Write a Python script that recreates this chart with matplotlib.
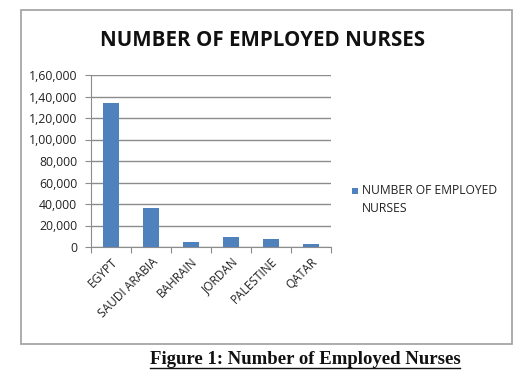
import matplotlib
matplotlib.use('Agg')
import matplotlib.pyplot as plt
from matplotlib.patches import Rectangle
from matplotlib.ticker import FuncFormatter, FixedLocator
import numpy as np

countries = ['EGYPT', 'SAUDI ARABIA', 'BAHRAIN', 'JORDAN', 'PALESTINE', 'QATAR']
nurses = [134000, 36000, 5000, 9000, 7000, 3000]
series_name = 'NUMBER OF EMPLOYED NURSES'
y_ticks = [0, 20000, 40000, 60000, 80000, 100000, 120000, 140000, 160000]


def indian_fmt(v, pos=None):
    # lakh style grouping: 1,60,000
    v = int(round(v))
    s = str(v)
    if len(s) <= 3:
        return s
    last3 = s[-3:]
    rest = s[:-3]
    parts = []
    while len(rest) > 2:
        parts.insert(0, rest[-2:])
        rest = rest[:-2]
    if rest:
        parts.insert(0, rest)
    return ','.join(parts) + ',' + last3


W, H = 529, 385
fig = plt.figure(figsize=(W / 100, H / 100), dpi=100)
fig.patch.set_facecolor('white')

# chart frame
fig.patches.append(Rectangle((20.7 / W, 1 - 344.3 / H), (512 - 20.7) / W, (344.3 - 9.7) / H,
                             transform=fig.transFigure, fill=False, edgecolor='#a6a6a6', lw=1.3))

ax = fig.add_axes([91 / W, 1 - 247 / H, (331 - 91) / W, (247 - 75) / H])
x = np.arange(len(countries))
ax.bar(x, nurses, width=0.4, color='#4f81bd', zorder=3, label=series_name)
ax.set_xlim(-0.5, len(countries) - 0.5)
ax.set_ylim(0, 160000)
ax.set_yticks(y_ticks)
ax.yaxis.set_major_formatter(FuncFormatter(indian_fmt))
ax.grid(axis='y', color='#8c8c8c', lw=1, zorder=0)

ax.xaxis.set_major_locator(FixedLocator(np.arange(len(countries) + 1) - 0.5))
ax.xaxis.set_minor_locator(FixedLocator(x))
ax.set_xticklabels([])
ax.set_xticklabels(countries, minor=True, rotation=45, ha='right', va='top',
                   rotation_mode='anchor', fontsize=8.6, color='#222222', family='Open Sans')
ax.tick_params(axis='x', which='minor', length=0, pad=6)
ax.tick_params(axis='x', which='major', length=4, color='#8c8c8c', direction='out')
ax.tick_params(axis='y', length=4, color='#8c8c8c', labelsize=8.8, labelcolor='#222222', pad=6)
for lbl in ax.get_yticklabels():
    lbl.set_family('Open Sans')

for side in ['top', 'right']:
    ax.spines[side].set_visible(False)
ax.spines['left'].set_color('#8c8c8c')
ax.spines['bottom'].set_color('#8c8c8c')

fig.text(263 / W, 1 - 41 / H, 'NUMBER OF EMPLOYED NURSES', ha='center', va='center',
         fontsize=14.8, fontweight='bold', family='Open Sans', color='#111111')

# legend
fig.patches.append(Rectangle((352 / W, 1 - 194 / H), 6 / W, 6 / H, transform=fig.transFigure,
                             facecolor='#4f81bd', edgecolor='none'))
fig.text(362 / W, 1 - 184 / H, 'NUMBER OF EMPLOYED\nNURSES', ha='left', va='top',
         fontsize=8.7, family='Open Sans', color='#222222', linespacing=1.5)

# caption with underline
cap = fig.text(305 / W, 1 - 360 / H, 'Figure 1: Number of Employed Nurses', ha='center', va='center',
               fontsize=13.5, fontweight='bold', family='Liberation Serif', color='#111111')
fig.canvas.draw()
bb = cap.get_window_extent().transformed(fig.transFigure.inverted())
fig.add_artist(plt.Line2D([bb.x0, bb.x1], [bb.y0 + 0.5 / H, bb.y0 + 0.5 / H],
                          transform=fig.transFigure, color='#111111', lw=1))

fig.savefig('out.png', dpi=100)
